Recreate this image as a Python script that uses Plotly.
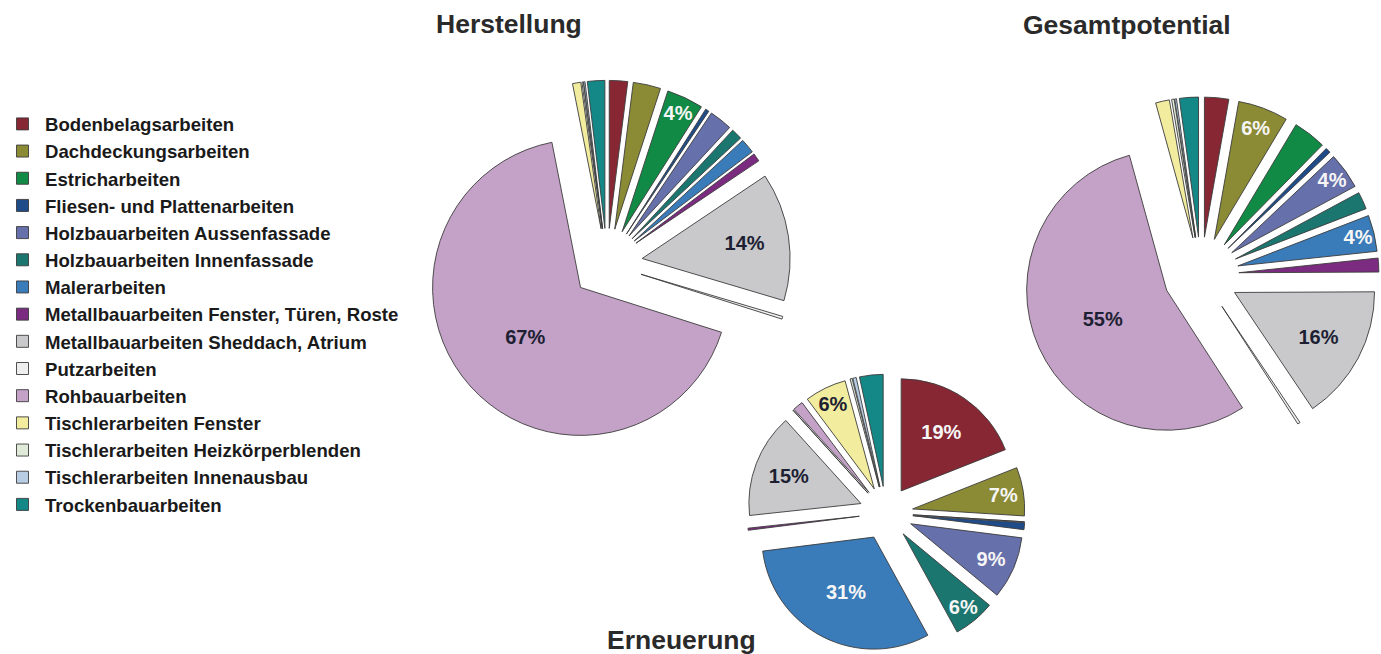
import plotly.graph_objects as go

# Trade categories (legend order, clockwise slice order)
categories = [
    "Bodenbelagsarbeiten",
    "Dachdeckungsarbeiten",
    "Estricharbeiten",
    "Fliesen- und Plattenarbeiten",
    "Holzbauarbeiten Aussenfassade",
    "Holzbauarbeiten Innenfassade",
    "Malerarbeiten",
    "Metallbauarbeiten Fenster, Türen, Roste",
    "Metallbauarbeiten Sheddach, Atrium",
    "Putzarbeiten",
    "Rohbauarbeiten",
    "Tischlerarbeiten Fenster",
    "Tischlerarbeiten Heizkörperblenden",
    "Tischlerarbeiten Innenausbau",
    "Trockenbauarbeiten",
]

colors = [
    "#872734", "#8b8a35", "#108a45", "#1f4c88", "#6670aa",
    "#1b766f", "#3a7bb9", "#7b2b80", "#c9c9cc", "#eeeeee",
    "#c4a1c6", "#f2ec9e", "#e0ead8", "#b8cde3", "#148787",
]

# Shares in percent
herstellung = [2.0, 3.0, 4.0, 0.4, 2.5, 1.2, 1.6, 0.9, 14.0, 0.3, 67.0, 0.9, 0.15, 0.15, 1.9]
gesamtpotential = [2.8, 5.8, 3.8, 0.6, 4.2, 2.0, 4.2, 1.6, 15.7, 0.3, 55.0, 1.6, 0.3, 0.2, 2.2]
erneuerung = [19.0, 7.0, 0.0, 1.0, 9.0, 6.0, 31.0, 0.3, 15.0, 0.0, 1.5, 6.0, 0.3, 0.5, 3.4]

# Slices that carry a percentage label, with label colour
DARK = "#1d1f33"
LIGHT = "#f6f6f6"
herstellung_labels = {"Estricharbeiten": LIGHT,
                      "Metallbauarbeiten Sheddach, Atrium": DARK,
                      "Rohbauarbeiten": DARK}
gesamt_labels = {"Dachdeckungsarbeiten": LIGHT,
                 "Holzbauarbeiten Aussenfassade": LIGHT,
                 "Malerarbeiten": LIGHT,
                 "Metallbauarbeiten Sheddach, Atrium": DARK,
                 "Rohbauarbeiten": DARK}
erneuerung_labels = {"Bodenbelagsarbeiten": LIGHT,
                     "Dachdeckungsarbeiten": LIGHT,
                     "Holzbauarbeiten Aussenfassade": LIGHT,
                     "Holzbauarbeiten Innenfassade": LIGHT,
                     "Malerarbeiten": LIGHT,
                     "Metallbauarbeiten Sheddach, Atrium": DARK,
                     "Tischlerarbeiten Fenster": DARK}

FONT = "Liberation Sans, Arial, sans-serif"


def make_pie(values, labelled, domain, pull, show_legend):
    templates = ["%{percent:.0%}" if c in labelled else "" for c in categories]
    text_colors = [labelled.get(c, DARK) for c in categories]
    return go.Pie(
        labels=categories,
        values=values,
        sort=False,
        direction="clockwise",
        rotation=0,
        pull=pull,
        domain=domain,
        marker=dict(colors=colors, line=dict(color="#3c3c3c", width=0.9)),
        texttemplate=templates,
        textposition="inside",
        insidetextorientation="horizontal",
        textfont=dict(family=FONT, size=20, color=text_colors, weight="bold"),
        showlegend=show_legend,
        hoverinfo="label+percent",
    )


fig = go.Figure()
fig.add_trace(make_pie(herstellung, herstellung_labels,
                       dict(x=[0.3067, 0.5724], y=[0.3160, 0.8772]), 0.24, True))
fig.add_trace(make_pie(gesamtpotential, gesamt_labels,
                       dict(x=[0.7410, 0.9985], y=[0.3080, 0.8517]), 0.27, False))
fig.add_trace(make_pie(erneuerung, erneuerung_labels,
                       dict(x=[0.5410, 0.7422], y=[0.0030, 0.4278]), 0.24, False))

titles = [("Herstellung", 0.3686, 0.9633),
          ("Gesamtpotential", 0.8161, 0.9618),
          ("Erneuerung", 0.4938, 0.0214)]
for text, x, y in titles:
    fig.add_annotation(text=text, x=x, y=y, xref="paper", yref="paper",
                       xanchor="center", yanchor="middle", showarrow=False,
                       font=dict(family=FONT, size=26.5, color="#2a2a2a", weight="bold"))

fig.update_layout(
    width=1381,
    height=654,
    margin=dict(l=0, r=0, t=0, b=0, autoexpand=False),
    paper_bgcolor="white",
    plot_bgcolor="white",
    uniformtext=dict(minsize=20, mode="show"),
    legend=dict(
        x=0.0, y=0.839, xanchor="left", yanchor="top",
        traceorder="normal",
        itemwidth=35,
        font=dict(family=FONT, size=18.6, color="#1a1a1a", weight="bold"),
        bgcolor="rgba(0,0,0,0)",
    ),
)

fig.write_html("out.html")
